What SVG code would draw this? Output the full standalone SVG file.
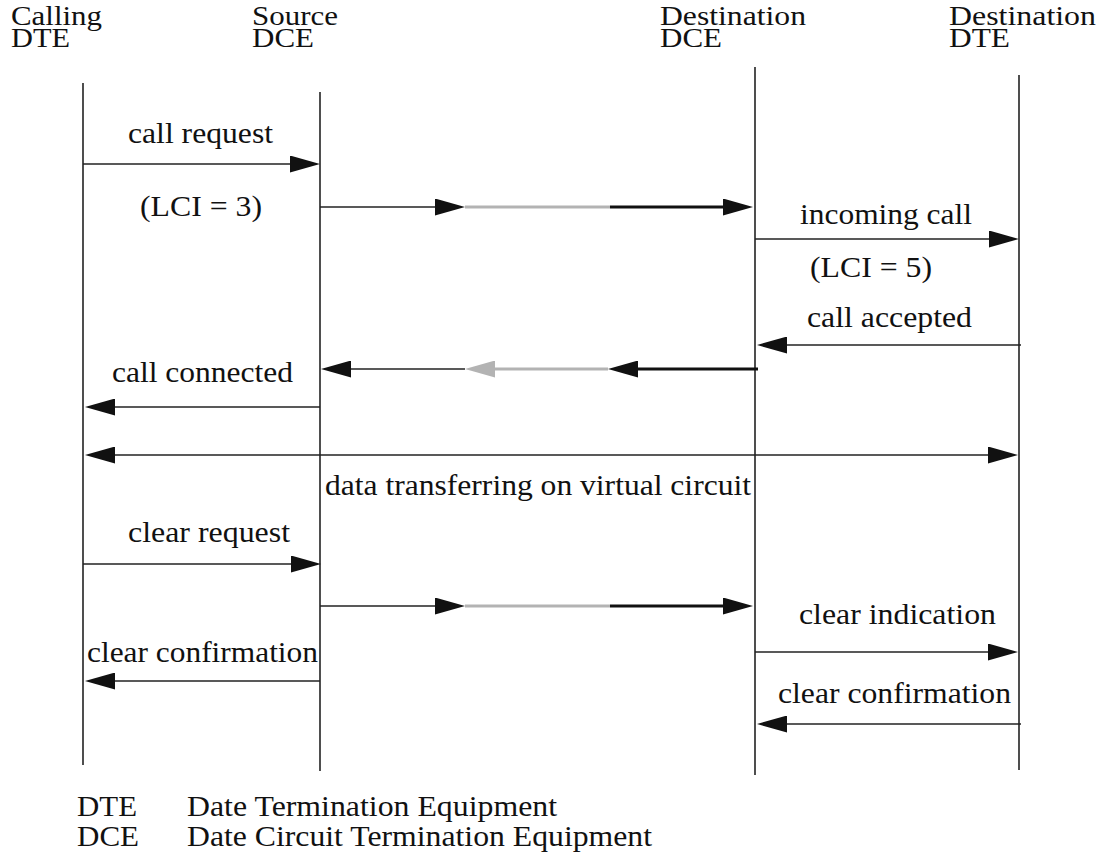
<svg xmlns="http://www.w3.org/2000/svg" width="1104" height="856" viewBox="0 0 1104 856">
<style>
.t{font-family:"Liberation Serif","Times New Roman",serif;font-size:29px;fill:#111}
.h{font-family:"Liberation Serif","Times New Roman",serif;font-size:27px;fill:#111}
.life{stroke:#222;stroke-width:1.6;fill:none}
.thin{stroke:#222;stroke-width:1.6;fill:none}
.thick{stroke:#111;stroke-width:3;fill:none}
.gray{stroke:#b3b3b3;stroke-width:3;fill:none}
</style>
<defs>
<marker id="ah" markerUnits="userSpaceOnUse" markerWidth="30" markerHeight="17" refX="20" refY="8.5" orient="auto-start-reverse">
<path d="M0,0 L30,8.5 L0,17 Z" fill="#111"/>
</marker>
<marker id="ahg" markerUnits="userSpaceOnUse" markerWidth="30" markerHeight="17" refX="20" refY="8.5" orient="auto-start-reverse">
<path d="M0,0 L30,8.5 L0,17 Z" fill="#b3b3b3"/>
</marker>
</defs>
<rect width="1104" height="856" fill="#fff"/>

<g id="calling-dte">
<text class="h" x="11" y="25" textLength="91" lengthAdjust="spacingAndGlyphs">Calling</text>
<text class="h" x="11" y="47" textLength="59" lengthAdjust="spacingAndGlyphs">DTE</text>
<line class="life" x1="83" y1="83" x2="83" y2="765"/>
</g>
<g id="source-dce">
<text class="h" x="252" y="25" textLength="86" lengthAdjust="spacingAndGlyphs">Source</text>
<text class="h" x="252" y="47" textLength="62" lengthAdjust="spacingAndGlyphs">DCE</text>
<line class="life" x1="320" y1="92" x2="320" y2="771"/>
</g>
<g id="destination-dce">
<text class="h" x="660" y="25" textLength="146" lengthAdjust="spacingAndGlyphs">Destination</text>
<text class="h" x="660" y="47" textLength="62" lengthAdjust="spacingAndGlyphs">DCE</text>
<line class="life" x1="755" y1="67" x2="755" y2="775"/>
</g>
<g id="destination-dte">
<text class="h" x="949" y="25" textLength="147" lengthAdjust="spacingAndGlyphs">Destination</text>
<text class="h" x="949" y="47" textLength="61" lengthAdjust="spacingAndGlyphs">DTE</text>
<line class="life" x1="1019" y1="75" x2="1019" y2="770"/>
</g>

<g id="connectors">
<!-- call request -->
<path class="thin" d="M83,164 H310" marker-end="url(#ah)"/>
<!-- forward relay 1 -->
<path class="thin" d="M320,207 H455" marker-end="url(#ah)"/>
<path class="gray" d="M465,207 H610"/>
<path class="thick" d="M610,207 H743" marker-end="url(#ah)"/>
<!-- incoming call -->
<path class="thin" d="M755,239 H1009" marker-end="url(#ah)"/>
<!-- call accepted -->
<path class="thin" d="M1021,345 H767" marker-end="url(#ah)"/>
<!-- return relay -->
<path class="thick" d="M758,369 H618" marker-end="url(#ah)"/>
<path class="gray" d="M608,369 H475" marker-end="url(#ahg)"/>
<path class="thin" d="M465,369 H331" marker-end="url(#ah)"/>
<!-- call connected -->
<path class="thin" d="M320,407 H95" marker-end="url(#ah)"/>
<!-- data transfer -->
<path class="thin" d="M95,455 H1008" marker-start="url(#ah)" marker-end="url(#ah)"/>
<!-- clear request -->
<path class="thin" d="M83,564 H311" marker-end="url(#ah)"/>
<!-- forward relay 2 -->
<path class="thin" d="M320,606 H455" marker-end="url(#ah)"/>
<path class="gray" d="M465,606 H610"/>
<path class="thick" d="M610,606 H743" marker-end="url(#ah)"/>
<!-- clear indication -->
<path class="thin" d="M755,652 H1008" marker-end="url(#ah)"/>
<!-- clear confirmation left -->
<path class="thin" d="M320,681 H95" marker-end="url(#ah)"/>
<!-- clear confirmation right -->
<path class="thin" d="M1021,724 H767" marker-end="url(#ah)"/>
</g>

<g id="labels">
<text class="t" x="128" y="143" textLength="145" lengthAdjust="spacingAndGlyphs">call request</text>
<text class="t" x="140" y="216" textLength="122" lengthAdjust="spacingAndGlyphs">(LCI = 3)</text>
<text class="t" x="800" y="224" textLength="172" lengthAdjust="spacingAndGlyphs">incoming call</text>
<text class="t" x="810" y="277" textLength="122" lengthAdjust="spacingAndGlyphs">(LCI = 5)</text>
<text class="t" x="807" y="327" textLength="165" lengthAdjust="spacingAndGlyphs">call accepted</text>
<text class="t" x="112" y="382" textLength="181" lengthAdjust="spacingAndGlyphs">call connected</text>
<text class="t" x="325" y="495" textLength="426" lengthAdjust="spacingAndGlyphs">data transferring on virtual circuit</text>
<text class="t" x="128" y="542" textLength="162" lengthAdjust="spacingAndGlyphs">clear request</text>
<text class="t" x="799" y="624" textLength="197" lengthAdjust="spacingAndGlyphs">clear indication</text>
<text class="t" x="87" y="662" textLength="231" lengthAdjust="spacingAndGlyphs">clear confirmation</text>
<text class="t" x="778" y="703" textLength="233" lengthAdjust="spacingAndGlyphs">clear confirmation</text>
</g>

<g id="legend">
<text class="t" x="77" y="816" textLength="60" lengthAdjust="spacingAndGlyphs">DTE</text>
<text class="t" x="187" y="816" textLength="370" lengthAdjust="spacingAndGlyphs">Date Termination Equipment</text>
<text class="t" x="77" y="846" textLength="62" lengthAdjust="spacingAndGlyphs">DCE</text>
<text class="t" x="187" y="846" textLength="465" lengthAdjust="spacingAndGlyphs">Date Circuit Termination Equipment</text>
</g>
</svg>
